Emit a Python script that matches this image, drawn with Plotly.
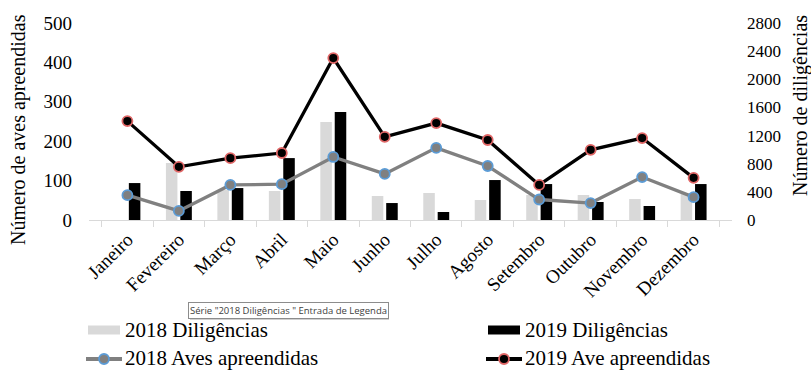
import plotly.graph_objects as go

meses = ["Janeiro", "Fevereiro", "Março", "Abril", "Maio", "Junho", "Julho",
         "Agosto", "Setembro", "Outubro", "Novembro", "Dezembro"]

dil_2018 = [0, 810, 426, 412, 1392, 341, 384, 284, 355, 355, 298, 380]
dil_2019 = [525, 412, 454, 880, 1534, 241, 114, 568, 511, 256, 199, 511]
aves_2018 = [63, 23, 89, 91, 160, 117, 183, 137, 52, 43, 109, 58]
aves_2019 = [251, 135, 157, 170, 411, 211, 246, 203, 89, 178, 208, 107]

left_ticks = [0, 100, 200, 300, 400, 500]
right_ticks = [0, 400, 800, 1200, 1600, 2000, 2400, 2800]

FONT = "Liberation Serif, Times New Roman, serif"
W, H = 811, 373
ML, MR, MT, MB = 89, 79, 23, 153
PW, PH = W - ML - MR, H - MT - MB


def px(x):
    return (x - ML) / PW


def py(y):
    return (H - MB - y) / PH


fig = go.Figure()
fig.add_trace(go.Bar(x=meses, y=dil_2018, name="2018 Diligências",
                     marker=dict(color="#d9d9d9", line=dict(width=0)),
                     yaxis="y", showlegend=False))
fig.add_trace(go.Bar(x=meses, y=dil_2019, name="2019 Diligências",
                     marker=dict(color="#000000", line=dict(width=0)),
                     yaxis="y", showlegend=False))
fig.add_trace(go.Scatter(x=meses, y=aves_2018, name="2018 Aves apreendidas",
                         mode="lines+markers", yaxis="y2",
                         line=dict(color="#808080", width=3.3),
                         marker=dict(color="#808080", size=10,
                                     line=dict(color="#5b9bd5", width=1.8)),
                         showlegend=False))
fig.add_trace(go.Scatter(x=meses, y=aves_2019, name="2019 Ave apreendidas",
                         mode="lines+markers", yaxis="y2",
                         line=dict(color="#000000", width=3.3),
                         marker=dict(color="#000000", size=10,
                                     line=dict(color="#e06666", width=1.8)),
                         showlegend=False))

tickfont = dict(family=FONT, size=19, color="#000000")

fig.update_layout(
    width=W, height=H,
    margin=dict(l=ML, r=MR, t=MT, b=MB),
    paper_bgcolor="white", plot_bgcolor="white",
    barmode="group", bargap=0.44, bargroupgap=0.2,
    font=dict(family=FONT, color="#000000"),
    xaxis=dict(type="category", tickangle=-45, tickfont=tickfont,
               showline=True, linecolor="#d9d9d9", linewidth=1,
               ticks="outside", tickson="boundaries", ticklen=6,
               tickcolor="#d9d9d9", showgrid=False, zeroline=False),
    yaxis=dict(side="right", range=[0, 2800], tickvals=right_ticks,
               tickfont=dict(family=FONT, size=17, color="#000000"),
               showgrid=False, zeroline=False, showline=False,
               ticklabelstandoff=14),
    yaxis2=dict(side="left", overlaying="y", range=[0, 500],
                tickvals=left_ticks, tickfont=tickfont,
                showgrid=False, zeroline=False, showline=False,
                ticklabelstandoff=16),
)

shapes = [
    # soft shadow of the tooltip box
    dict(type="rect", xref="paper", yref="paper",
         x0=px(190), x1=px(389), y0=py(320), y1=py(305),
         fillcolor="#d0d0d0", line=dict(width=0), layer="above"),
]

annotations = [
    dict(text="Número de aves apreendidas", textangle=-90,
         x=px(18), y=py(130), xref="paper", yref="paper",
         xanchor="center", yanchor="middle", showarrow=False,
         font=dict(family=FONT, size=20, color="#000000")),
    dict(text="Número de diligências", textangle=-90,
         x=px(800), y=py(105), xref="paper", yref="paper",
         xanchor="center", yanchor="middle", showarrow=False,
         font=dict(family=FONT, size=20, color="#000000")),
    dict(text='Série "2018 Diligências " Entrada de Legenda',
         x=px(188), y=py(310), xref="paper", yref="paper",
         xanchor="left", yanchor="middle", showarrow=False,
         bgcolor="white", bordercolor="#8c8c8c", borderwidth=1, borderpad=1,
         font=dict(family="Open Sans", size=9.5, color="#404040")),
]

legend_items = [
    ("2018 Diligências", "bar", "#d9d9d9", None, 88, 330),
    ("2019 Diligências", "bar", "#000000", None, 488, 330),
    ("2018 Aves apreendidas", "line", "#808080", "#5b9bd5", 88, 358),
    ("2019 Ave apreendidas", "line", "#000000", "#e06666", 488, 358),
]

for name, kind, col, edge, x0, yc in legend_items:
    if kind == "bar":
        shapes.append(dict(type="rect", xref="paper", yref="paper",
                           x0=px(x0), x1=px(x0 + 32), y0=py(yc - 4.5), y1=py(yc + 4.5),
                           fillcolor=col, line=dict(width=0)))
    else:
        shapes.append(dict(type="line", xref="paper", yref="paper",
                           x0=px(x0 - 2), x1=px(x0 + 34), y0=py(yc + 1), y1=py(yc + 1),
                           line=dict(color=col, width=4)))
        shapes.append(dict(type="circle", xref="paper", yref="paper",
                           x0=px(x0 + 11), x1=px(x0 + 21), y0=py(yc - 4), y1=py(yc + 6),
                           fillcolor=col, line=dict(color=edge, width=1.8)))
    annotations.append(dict(text=name, x=px(x0 + 35), y=py(yc),
                            xref="paper", yref="paper", xanchor="left",
                            yanchor="middle", showarrow=False,
                            font=dict(family=FONT, size=21, color="#000000")))

fig.update_layout(annotations=annotations, shapes=shapes)

fig.write_html("out.html")
